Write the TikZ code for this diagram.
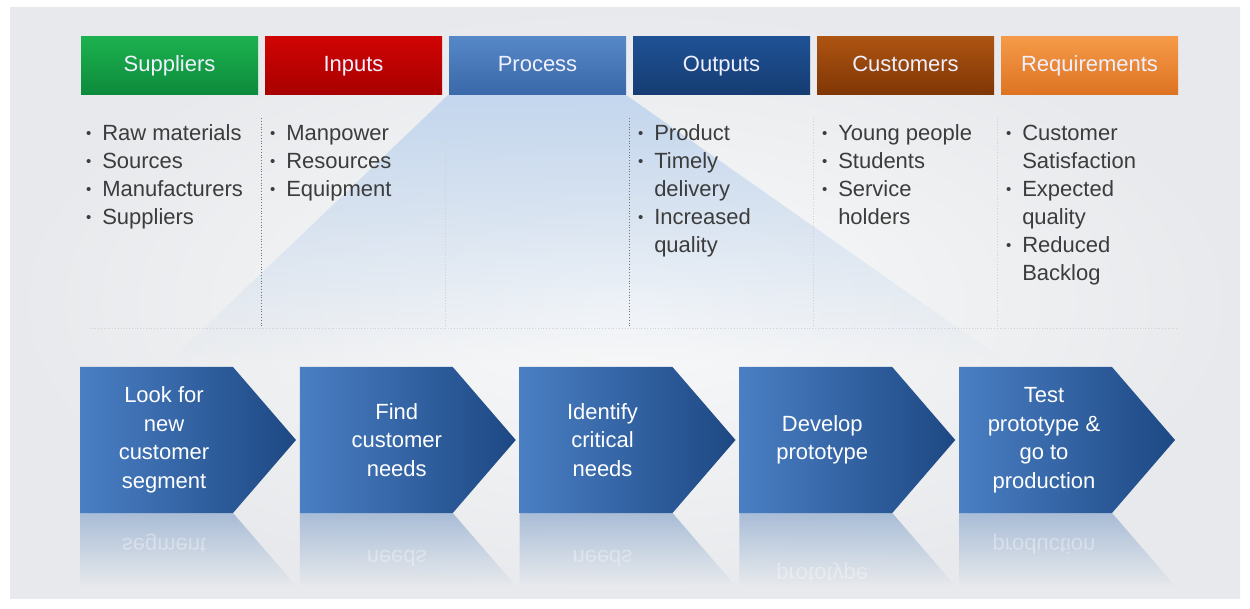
\documentclass[tikz,border=0pt]{standalone}
\usepackage{fontspec}
\setmainfont{Liberation Sans}
\usetikzlibrary{calc, fadings}

\definecolor{panel}{HTML}{F1F2F3}
\definecolor{panelrim}{HTML}{E7E9EC}
\definecolor{fantop}{HTML}{C4D7EE}
\definecolor{suptop}{HTML}{1DB14F}
\definecolor{supbot}{HTML}{0C8A3B}
\definecolor{inptop}{HTML}{D00404}
\definecolor{inpbot}{HTML}{A80000}
\definecolor{protop}{HTML}{5687C6}
\definecolor{probot}{HTML}{3A68A8}
\definecolor{outtop}{HTML}{1F5295}
\definecolor{outbot}{HTML}{153C72}
\definecolor{custop}{HTML}{AD5412}
\definecolor{cusbot}{HTML}{7F3604}
\definecolor{reqtop}{HTML}{F59A48}
\definecolor{reqbot}{HTML}{DD7322}
\definecolor{steplight}{HTML}{4A7FC4}
\definecolor{stepdark}{HTML}{1D4883}
\definecolor{reflect}{HTML}{A9BDD7}
\definecolor{listtext}{HTML}{3C3C3C}

\newcommand\listdot{\raisebox{1.5pt}{\fontsize{15}{15}\selectfont\textbullet}}

\begin{document}
\begin{tikzpicture}[x=1pt, y=-1pt]

\useasboundingbox (0, 0) rectangle (1250, 609) ;

% background

\fill [white] (0, 0) rectangle (1250, 609) ;
\shade [inner color=white!60!panel, outer color=panelrim] (10, 8) rectangle (1240, 598) ;

% fan below the process box

\fill [fantop, path fading=south] (449, 95) -- (627, 95) -- (1008, 362) -- (169, 362) -- cycle ;

% header boxes

\tikzstyle{head box} = [minimum width=177, minimum height=58, inner sep=0pt, text=white!94!blue,
	text height=16, text depth=5, font=\fontsize{22}{26}\selectfont]

\foreach \name/\label/\topc/\botc [count=\i from 0] in
	{suppliers/Suppliers/suptop/supbot, inputs/Inputs/inptop/inpbot,
	 process/Process/protop/probot, outputs/Outputs/outtop/outbot,
	 customers/Customers/custop/cusbot, requirements/Requirements/reqtop/reqbot}
	\node (\name) [head box, top color=\topc, bottom color=\botc] at (169.5 + \i*184, 66) {\label} ;

% dotted rules

\tikzstyle{grid rule} = [dotted, line width=.8pt]

\foreach \a/\b/\shadeof in {suppliers/inputs/55, inputs/process/18, process/outputs/55,
	outputs/customers/18, customers/requirements/18}
	\draw [grid rule, black!\shadeof] ($(\a.south east)!.5!(\b.south west) + (0, 23)$) -- ++(0, 208) ;

\draw [grid rule, black!18] ($(suppliers.south west) + (9, 233)$) -- ($(requirements.south east) + (0, 233)$) ;

% bullet lists

\tikzstyle{list text} = [anchor=base west, inner sep=0pt, text=listtext, font=\fontsize{22}{28}\selectfont]

\node (supplierslist) [list text] at ($(suppliers.south west) + (5, 45)$)
	{\begin{tabular}[t]{@{}l@{\hspace{11pt}}l@{}}
	\listdot & Raw materials \\ \listdot & Sources \\ \listdot & Manufacturers \\ \listdot & Suppliers
	\end{tabular}} ;

\node (inputslist) [list text] at ($(inputs.south west) + (5, 45)$)
	{\begin{tabular}[t]{@{}l@{\hspace{11pt}}l@{}}
	\listdot & Manpower \\ \listdot & Resources \\ \listdot & Equipment
	\end{tabular}} ;

\node (outputslist) [list text] at ($(outputs.south west) + (5, 45)$)
	{\begin{tabular}[t]{@{}l@{\hspace{11pt}}l@{}}
	\listdot & Product \\ \listdot & Timely \\ & delivery \\ \listdot & Increased \\ & quality
	\end{tabular}} ;

\node (customerslist) [list text] at ($(customers.south west) + (5, 45)$)
	{\begin{tabular}[t]{@{}l@{\hspace{11pt}}l@{}}
	\listdot & Young people \\ \listdot & Students \\ \listdot & Service \\ & holders
	\end{tabular}} ;

\node (requirementslist) [list text] at ($(requirements.south west) + (5, 45)$)
	{\begin{tabular}[t]{@{}l@{\hspace{11pt}}l@{}}
	\listdot & Customer \\ & Satisfaction \\ \listdot & Expected \\ & quality \\ \listdot & Reduced \\ & Backlog
	\end{tabular}} ;

% process steps

\def\stepbody{153}
\def\steptip{63}

\tikzstyle{step arrow} = [left color=steplight, right color=stepdark]
\tikzstyle{step mirror} = [fill=reflect, path fading=south]
\tikzstyle{step text} = [align=center, inner sep=0pt, text=white, font=\fontsize{22}{28.5}\selectfont]
\tikzstyle{mirror text} = [inner sep=0pt, text=white, opacity=.35, font=\fontsize{22}{28.5}\selectfont]

\foreach \name/\label/\last/\lasty/\dx [count=\i from 0] in
	{look/{Look for\\new\\customer\\segment}/segment/483/84,
	 find/{Find\\customer\\needs}/needs/468/97,
	 identify/{Identify\\critical\\needs}/needs/468/83,
	 develop/{Develop\\prototype}/prototype/454/83,
	 test/{Test\\prototype \&\\go to\\production}/production/482/85}
{
	\pgfmathsetmacro\xl{80 + \i*219.75}
	\fill [step mirror] (\xl, 513) -- ++(\stepbody, 0) -- ++(\steptip, 73) -- (\xl, 586) -- cycle ;
	\shade [step arrow] (\xl, 367) -- ++(\stepbody, 0) -- ++(\steptip, 73) -- ++(-\steptip, 73) -- (\xl, 513) -- cycle ;
	\node (\name) [step text] at (\xl + \dx, 440) {\label} ;
	\node [mirror text] at (\xl + \dx, 1026 - \lasty) {\scalebox{1}[-1]{\last}} ;
}

\end{tikzpicture}
\end{document}
